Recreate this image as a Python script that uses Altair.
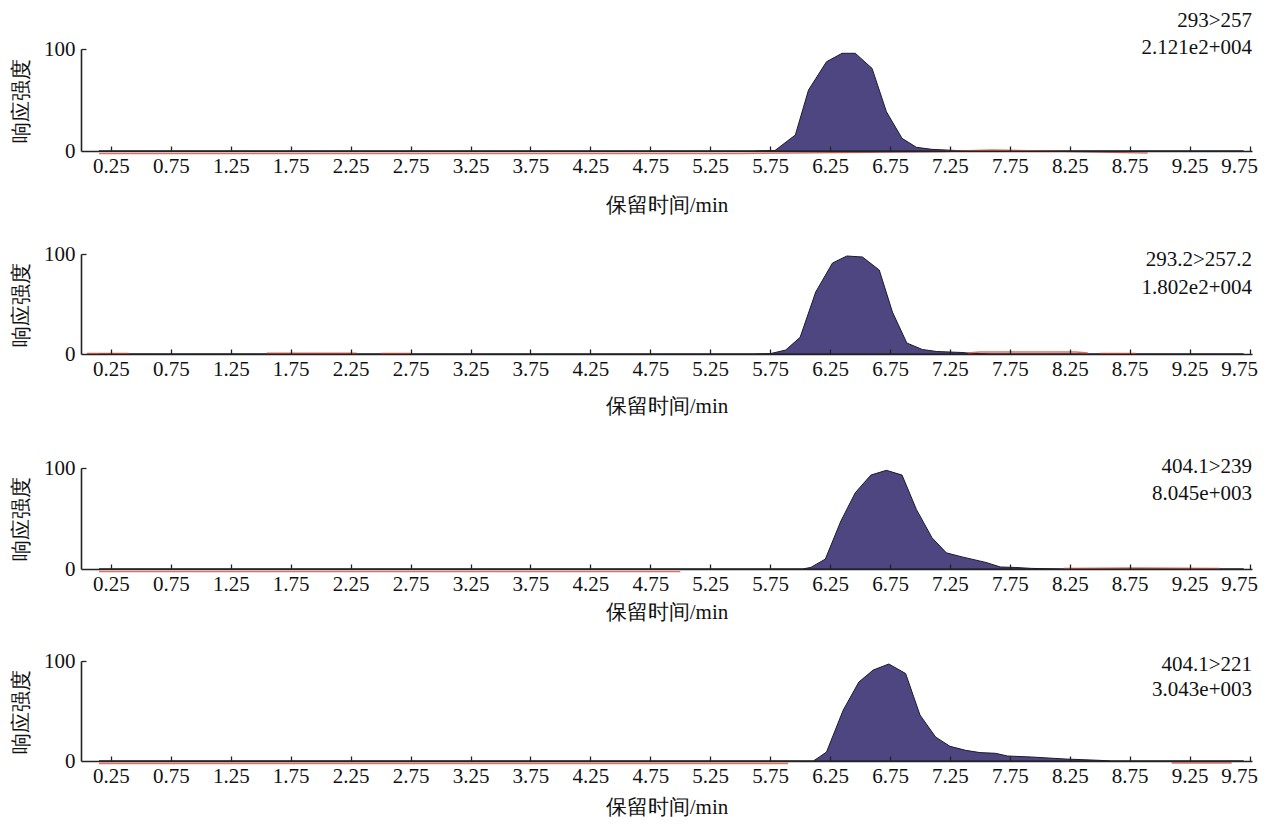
import altair as alt
import pandas as pd

# ---------------- data ----------------
x_ticks = [0.25, 0.75, 1.25, 1.75, 2.25, 2.75, 3.25, 3.75, 4.25, 4.75,
           5.25, 5.75, 6.25, 6.75, 7.25, 7.75, 8.25, 8.75, 9.25, 9.75]
y_ticks = [0, 100]

# panel 1: 293>257
p1_t = [0.15, 5.60, 5.79, 5.96, 6.07, 6.22, 6.35, 6.46, 6.60, 6.72, 6.85, 6.97, 7.10, 7.30, 7.50, 9.70]
p1_v = [0, 0, 0.5, 15.7, 59.8, 87.5, 95.8, 95.8, 81.0, 38.5, 12.4, 3.6, 1.6, 0.5, 0, 0]
r1_t = [0.15, 5.50, 5.90, 7.20, 7.60, 8.00, 8.90]
r1_v = [-2.5, -2.5, -2.0, -0.5, 1.0, 0.2, -2.0]
r1_s = [0, 0, 0, 0, 0, 0, 0]

# panel 2: 293.2>257.2
p2_t = [0.15, 5.60, 5.75, 5.88, 6.00, 6.13, 6.27, 6.39, 6.52, 6.66, 6.77, 6.89, 7.02, 7.14, 7.35, 7.45, 7.60, 9.70]
p2_v = [0, 0, 0.3, 4.0, 16.7, 62.0, 91.0, 98.0, 97.0, 84.0, 42.0, 11.0, 4.5, 2.5, 1.5, 0.5, 0, 0]
r2_t = [0.05, 0.40, 1.55, 2.30, 2.50, 2.75, 7.40, 7.50, 8.30, 8.40, 8.50, 8.80]
r2_v = [0.6, 0.6, 0.8, 0.8, 0.6, 0.6, 1.0, 2.0, 2.0, 1.0, 0.5, 0.5]
r2_s = [0, 0, 1, 1, 2, 2, 3, 3, 3, 3, 4, 4]

# panel 3: 404.1>239
p3_t = [0.15, 5.90, 6.02, 6.09, 6.21, 6.34, 6.46, 6.59, 6.72, 6.85, 6.97, 7.10, 7.22, 7.35, 7.55, 7.67, 7.80, 7.93, 8.18, 9.70]
p3_v = [0, 0, 0, 1.6, 9.8, 47.5, 75.5, 93.0, 97.7, 93.0, 59.0, 31.0, 16.0, 12.0, 6.5, 2.0, 1.5, 0.6, 0, 0]
r3_t = [0.15, 4.00, 5.00, 8.20, 8.80, 9.50]
r3_v = [-2.5, -2.5, -2.5, 0.5, 1.2, 0.5]
r3_s = [0, 0, 0, 1, 1, 1]

# panel 4: 404.1>221
p4_t = [0.15, 6.00, 6.11, 6.16, 6.22, 6.36, 6.49, 6.61, 6.74, 6.88, 7.00, 7.13, 7.25, 7.38, 7.50, 7.63, 7.73, 7.93, 8.21, 8.49, 8.60, 9.70]
p4_v = [0, 0, 0, 4.0, 9.0, 51.0, 79.0, 91.0, 97.0, 87.5, 46.0, 24.0, 14.7, 10.7, 8.4, 7.7, 5.0, 4.0, 2.0, 0.7, 0, 0]
r4_t = [0.15, 3.00, 5.90, 9.10, 9.60]
r4_v = [-2.5, -2.5, -2.5, -2.0, -2.0]
r4_s = [0, 0, 0, 1, 1]

labels1 = ["293>257", "2.121e2+004"]
labels2 = ["293.2>257.2", "1.802e2+004"]
labels3 = ["404.1>239", "8.045e+003"]
labels4 = ["404.1>221", "3.043e+003"]

# ---------------- layout / style ----------------
W = 1171
XDOM = [0, 9.77]
FILL = "#4e4680"
EDGE = "#1c1a30"
RED = "#e4503c"
FONT = "Liberation Serif"


def panel(pt, pv, rt, rv, rs, labels, height, text_y, title_pad):
    xs = alt.Scale(domain=XDOM, nice=False, zero=False)
    ys = alt.Scale(domain=[0, 100], nice=False, zero=False)
    area = alt.Chart(pd.DataFrame({"t": pt, "v": pv})).mark_area(
        fill=FILL, stroke=EDGE, strokeWidth=1, strokeJoin="round", clip=False
    ).encode(
        x=alt.X("t:Q", scale=xs, title="保留时间/min",
                axis=alt.Axis(values=x_ticks, format=".2f", tickSize=0, labelPadding=4,
                              titlePadding=title_pad, grid=False, labelOverlap=False,
                              labelFlush=5, labelFlushOffset=8,
                              domainWidth=1.6, zindex=1)),
        y=alt.Y("v:Q", scale=ys, title="响应强度",
                axis=alt.Axis(values=y_ticks, tickSize=0, labelPadding=6, titlePadding=12,
                              grid=False, domainWidth=1.6, zindex=1)),
    )
    red = alt.Chart(pd.DataFrame({"t": rt, "v": rv, "s": rs})).mark_line(
        color=RED, strokeWidth=1.3, opacity=0.85, clip=False
    ).encode(
        x=alt.X("t:Q", scale=xs, title=None,
                axis=alt.Axis(orient="top", offset=-height, values=x_ticks, tickSize=5,
                              tickWidth=1.3, labels=False, domain=False, grid=False, zindex=1)),
        y=alt.Y("v:Q", scale=ys, title=None,
                axis=alt.Axis(orient="right", offset=-W, values=[100], tickSize=5,
                              tickWidth=1.3, labels=False, domain=False, grid=False, zindex=1)),
        detail="s:N",
    )
    texts = []
    for lab, yy in zip(labels, text_y):
        texts.append(
            alt.Chart(pd.DataFrame({"lab": [lab]})).mark_text(
                align="right", baseline="middle", font=FONT, fontSize=21, color="#111"
            ).encode(x=alt.value(W), y=alt.value(yy), text="lab:N")
        )
    return alt.layer(area, red, *texts).resolve_axis(
        x="independent", y="independent"
    ).properties(width=W, height=height)


p1 = panel(p1_t, p1_v, r1_t, r1_v, r1_s, labels1, 102, [-28, -1], 18)
p2 = panel(p2_t, p2_v, r2_t, r2_v, r2_s, labels2, 100, [6, 34], 16)
p3 = panel(p3_t, p3_v, r3_t, r3_v, r3_s, labels3, 101, [-1, 26], 7)
p4 = panel(p4_t, p4_v, r4_t, r4_v, r4_s, labels4, 100, [4, 29], 10)

chart = alt.vconcat(
    alt.vconcat(p1, p2, spacing=28),
    alt.vconcat(p3, p4, spacing=28),
    spacing=40,
).properties(
    padding={"left": 2, "top": 2, "right": 0, "bottom": 0},
    background="white",
).configure_view(stroke=None).configure_axis(
    labelFont=FONT, titleFont=FONT, labelFontSize=21, titleFontSize=21,
    titleFontWeight="normal", labelColor="#111", titleColor="#111",
    domainColor="#222", tickColor="#222",
)

chart.save("out.html", embed_options={"renderer": "svg", "actions": False})
